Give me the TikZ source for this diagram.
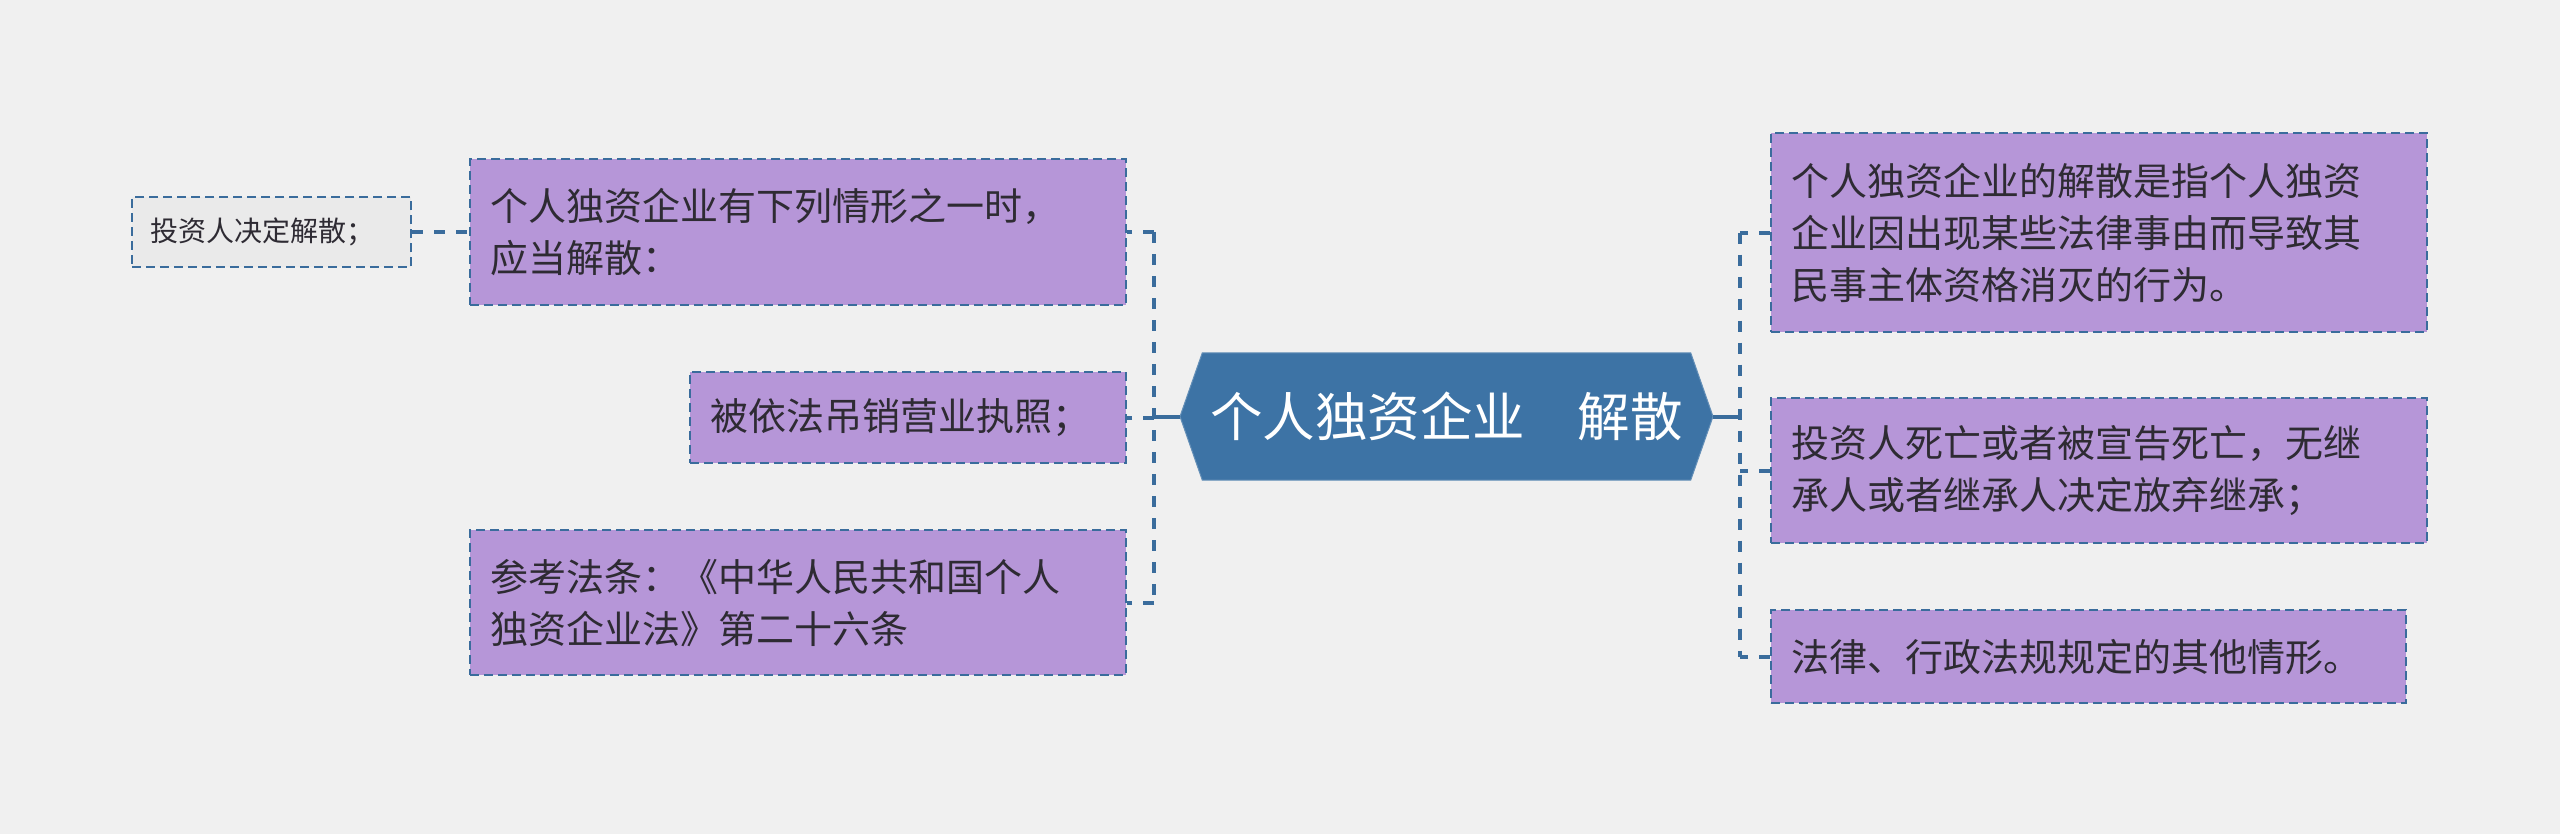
\documentclass[tikz,border=0pt]{standalone}
\usepackage{fontspec}
\setmainfont{Noto Sans CJK SC}
\usetikzlibrary{backgrounds}
\definecolor{bg}{HTML}{F0F0F0}
\definecolor{boxfill}{HTML}{B696D8}
\definecolor{edgeblue}{HTML}{3A6C9C}
\definecolor{hubfill}{HTML}{3D73A5}
\definecolor{txt}{HTML}{2E2B33}
\definecolor{smallfill}{HTML}{EAEAEA}
\tikzset{
  x=1pt, y=-1pt,
  purplebox/.style={draw=edgeblue, fill=boxfill, line width=2.2pt,
    dash pattern=on 9pt off 5pt, anchor=north west, inner xsep=20pt, inner ysep=0pt,
    align=left, text=txt, font=\fontsize{38}{52}\selectfont},
  smallbox/.style={draw=edgeblue, fill=smallfill, line width=2.2pt,
    dash pattern=on 9pt off 5pt, anchor=north west, inner xsep=18pt, inner ysep=0pt,
    align=left, text=txt, font=\fontsize{28}{36}\selectfont},
  conn/.style={draw=edgeblue, line width=4pt, dash pattern=on 11pt off 11pt},
  solidconn/.style={draw=edgeblue, line width=4pt}
}
\begin{document}
\begin{tikzpicture}
\begin{scope}[on background layer]
\fill[bg] (0,0) rectangle (2560,834);
\end{scope}
\useasboundingbox (0,0) rectangle (2560,834);

% center
\node[text=white, font=\fontsize{52.5}{60}\selectfont, minimum width=488pt, minimum height=127pt, inner sep=0pt] (c) at (1446.5,416.5) {个人独资企业　解散};
\begin{scope}[on background layer]
\fill[hubfill, draw=hubfill!80!white, line width=1pt] (c.north west) -- (c.north east) -- (1713,416.5) -- (c.south east) -- (c.south west) -- (1180,416.5) -- cycle;
\end{scope}
\coordinate (cl) at (1180,416.5);
\coordinate (cr) at (1713,416.5);
\coordinate (Lh) at (1154,416.5);
\coordinate (Rh) at (1740,416.5);

% left boxes
\node[purplebox, minimum width=656pt, minimum height=146pt, text width=616pt] (L1) at (469,158) {个人独资企业有下列情形之一时，\\应当解散：};
\node[purplebox, minimum width=436pt, minimum height=91pt, text width=396pt] (L2) at (689,371) {被依法吊销营业执照；};
\node[purplebox, minimum width=656pt, minimum height=145pt, text width=616pt] (L3) at (469,529) {参考法条：《中华人民共和国个人\\独资企业法》第二十六条};
\node[smallbox, minimum width=279pt, minimum height=70pt, text width=243pt] (S) at (131,196) {投资人决定解散；};

% right boxes
\node[purplebox, minimum width=656pt, minimum height=199pt, text width=616pt] (R1) at (1770,132) {个人独资企业的解散是指个人独资\\企业因出现某些法律事由而导致其\\民事主体资格消灭的行为。};
\node[purplebox, minimum width=656pt, minimum height=145pt, text width=616pt] (R2) at (1770,397) {投资人死亡或者被宣告死亡，无继\\承人或者继承人决定放弃继承；};
\node[purplebox, minimum width=635pt, minimum height=93pt, text width=595pt] (R3) at (1770,609) {法律、行政法规规定的其他情形。};

% connectors
\begin{scope}[on background layer]
\draw[solidconn] (cl) -- (Lh);
\draw[conn] (L1.east -| Lh) -- (L3.east -| Lh);
\draw[conn] (L1.east -| Lh) -- (L1.east);
\draw[conn] (L2.east -| Lh) -- (L2.east);
\draw[conn] (L3.east -| Lh) -- (L3.east);
\draw[conn] (S.east) -- (L1.west |- S.east);
\draw[solidconn] (cr) -- (Rh);
\draw[conn] (R1.west -| Rh) -- (R3.west -| Rh);
\draw[conn] (R1.west) -- (R1.west -| Rh);
\draw[conn] (R2.west) -- (R2.west -| Rh);
\draw[conn] (R3.west) -- (R3.west -| Rh);
\end{scope}
\end{tikzpicture}
\end{document}
